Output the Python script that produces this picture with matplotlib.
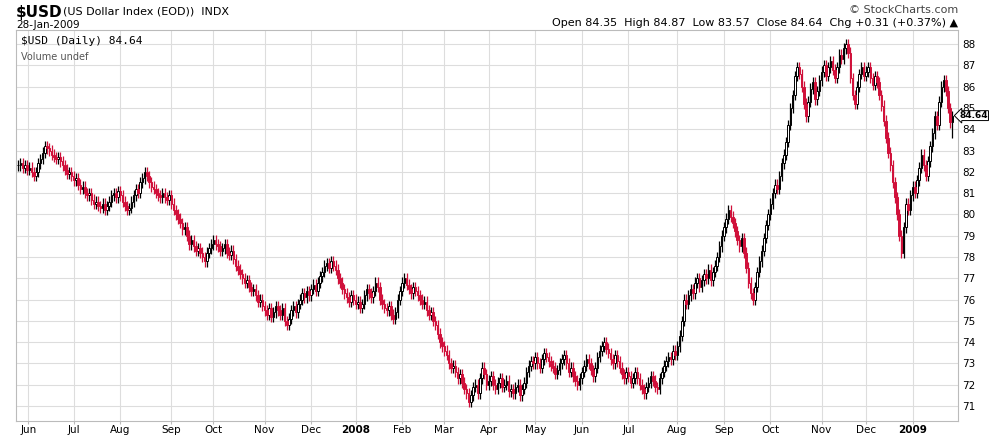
import matplotlib.pyplot as plt
import numpy as np

closes = [
    82.3, 82.4, 82.2, 82.3, 82.1,
    82.2, 82.0, 81.8, 82.0, 82.4, 82.6, 82.9, 83.2, 83.1, 83.0, 82.8, 82.7, 82.6, 82.7, 82.5, 82.3, 82.1, 81.9, 82.0, 81.8,
    81.6, 81.7, 81.4, 81.2, 81.3, 81.0, 80.9, 81.0, 80.7, 80.5, 80.6, 80.4, 80.3, 80.5, 80.2, 80.4, 80.6, 80.9, 81.0, 80.8, 81.1,
    80.9, 80.6, 80.4, 80.2, 80.3, 80.6, 80.9, 81.2, 81.0, 81.5, 81.7, 82.0, 81.8, 81.5, 81.3, 81.2, 81.0, 80.9, 80.8, 81.0, 80.8, 80.7, 80.9,
    80.5, 80.2, 80.0, 79.8, 79.6, 79.3, 79.4, 79.0, 78.6, 78.8, 78.5, 78.3, 78.4, 78.2, 78.0, 77.8, 78.2, 78.4, 78.6,
    78.8, 78.6, 78.5, 78.3, 78.4, 78.6, 78.2, 78.1, 78.3, 77.9, 77.6, 77.4, 77.2, 77.0, 76.8, 76.9, 76.6, 76.4, 76.5, 76.2, 75.9, 76.0, 75.7,
    75.5, 75.3, 75.6, 75.2, 75.4, 75.7, 75.5, 75.3, 75.6, 75.0, 74.8, 75.1, 75.5, 75.7, 75.4, 75.8, 76.0, 76.3, 76.1, 76.4, 76.2,
    76.5, 76.7, 76.4, 76.8, 77.1, 77.3, 77.6, 77.7, 77.5, 77.8, 77.6, 77.4, 77.0, 76.8, 76.5, 76.3, 76.1, 75.9, 76.2, 76.0,
    75.8, 75.9, 75.6, 75.8, 76.2, 76.5, 76.3, 76.1, 76.4, 76.8, 76.6, 76.0, 75.8, 75.6, 75.5, 75.7, 75.3, 75.1, 75.4, 76.0, 76.4,
    76.8, 77.0, 76.7, 76.5, 76.3, 76.6, 76.4, 76.2, 76.0, 75.8, 75.9, 75.5, 75.3, 75.4, 75.0, 74.8, 74.4, 74.0, 73.8,
    73.6, 73.4, 73.0, 72.8, 72.9, 72.6, 72.3, 72.5, 72.1, 71.8, 71.6, 71.2, 71.5, 71.9, 72.0, 71.6, 72.3, 72.8, 72.5, 72.0,
    72.2, 72.4, 72.0, 71.8, 72.1, 72.3, 71.9, 72.0, 72.2, 71.7, 71.8, 71.6, 71.9, 72.0, 71.5, 71.8, 72.1, 72.6, 72.9, 73.1, 73.0,
    73.3, 73.0, 72.8, 73.2, 73.5, 73.3, 73.1, 72.9, 72.8, 72.5, 72.7, 73.0, 73.2, 73.4, 73.0, 72.6, 72.8, 72.4, 72.2, 72.0, 72.3,
    72.6, 72.9, 73.2, 73.0, 72.7, 72.4, 72.8, 73.3, 73.6, 73.8, 74.0, 73.7, 73.5, 73.2, 73.0, 73.4, 73.1, 72.8, 72.5, 72.3, 72.6,
    72.4, 72.1, 72.3, 72.6, 72.3, 72.0, 71.8, 71.6, 71.9, 72.1, 72.4, 72.2, 71.9, 71.8, 72.3, 72.6, 72.9, 73.1, 73.3, 73.2, 73.6, 73.4,
    73.8, 74.3, 75.0, 76.0, 75.8, 76.2, 76.5, 76.3, 76.8, 77.0, 76.6, 76.9, 77.2, 77.0, 77.4, 76.9, 77.3, 77.6, 78.0, 78.5, 79.0,
    79.4, 79.8, 80.2, 79.9, 79.6, 79.2, 78.8, 78.5, 78.9, 78.2, 77.5, 76.8, 76.3, 76.0, 76.6, 77.3, 77.8, 78.3, 78.9, 79.5, 80.0,
    80.5, 81.0, 81.4, 81.2, 81.8, 82.4, 82.8, 83.4, 84.2, 85.0, 85.6, 86.5, 86.9, 86.6, 86.0, 85.2, 84.6, 85.3, 85.9, 86.2, 85.4, 85.8, 86.3,
    86.7, 87.0, 86.5, 86.9, 87.2, 86.8, 86.4, 86.9, 87.5, 87.3, 87.8, 88.0, 87.6, 86.4, 85.6, 85.2, 86.0, 86.6, 86.9, 86.5,
    86.7, 86.9, 86.4, 86.1, 86.5, 86.2, 85.6, 85.1, 84.4, 83.6, 82.9, 82.3, 81.5, 80.8, 80.0, 79.0, 78.2, 79.4, 80.5, 80.2, 80.9,
    81.3, 81.0, 81.6, 82.2, 82.8, 82.3, 81.8, 82.5, 83.2, 83.8, 84.6, 84.2, 85.3, 86.0, 86.3, 85.8, 85.0, 84.33, 84.64,
]
month_labels = ['Jun', 'Jul', 'Aug', 'Sep', 'Oct', 'Nov', 'Dec', '2008', 'Feb', 'Mar', 'Apr',
                'May', 'Jun', 'Jul', 'Aug', 'Sep', 'Oct', 'Nov', 'Dec', '2009']
month_idx = [4.5, 25, 46, 69, 88, 111, 132, 152, 173, 192, 212, 233, 254, 275, 297, 318, 339, 362, 382, 403]

closes = np.array(closes)
n = len(closes)
opens = np.r_[closes[0], closes[:-1]]
opens[-1] = 84.35
highs = np.maximum(opens, closes) + 0.25
lows = np.minimum(opens, closes) - 0.25
highs[-1], lows[-1] = 84.87, 83.57
x = np.arange(n)

fig = plt.figure(figsize=(9.9, 4.38), dpi=100)
ax = fig.add_axes([16/990, 17/438, 942/990, 391/438])

up = closes >= opens
red = '#d0103a'
cols = np.where(up, 'black', red)
ax.vlines(x, lows, highs, colors=cols, linewidth=0.9, zorder=3)
ax.bar(x[up], (closes - opens)[up], bottom=opens[up], width=0.7, facecolor='white',
       edgecolor='black', linewidth=0.7, zorder=4)
ax.bar(x[~up], (opens - closes)[~up], bottom=closes[~up], width=0.7, facecolor=red,
       edgecolor=red, linewidth=0.7, zorder=4)

ax.set_xlim(-1, n + 1.5)
ax.set_ylim(70.3, 88.66)
ax.set_xticks(month_idx)
ax.set_xticklabels(month_labels, fontsize=7.5)
for lab in ax.get_xticklabels():
    if lab.get_text() in ('2008', '2009'):
        lab.set_fontweight('bold')
ax.set_yticks(range(71, 89))
ax.yaxis.tick_right()
ax.tick_params(axis='y', labelsize=7.5, length=0, pad=3)
ax.tick_params(axis='x', length=2, pad=1, color='#bbbbbb')
ax.grid(True, color='#dddddd', linewidth=0.8)
ax.set_axisbelow(True)
for s in ax.spines.values():
    s.set_color('#bbbbbb')

ax.text(0.005, 0.985, '$USD (Daily) 84.64', transform=ax.transAxes, fontsize=8,
        family='DejaVu Sans Mono', va='top')
ax.text(0.005, 0.945, 'Volume undef', transform=ax.transAxes, fontsize=7, color='#555555', va='top')
ax.annotate('84.64', xy=(1, 84.64), xycoords=('axes fraction', 'data'), xytext=(1, 0),
            textcoords='offset points', fontsize=6.5, fontweight='bold', va='center',
            bbox=dict(boxstyle='larrow,pad=0.05', fc='white', ec='black', lw=0.7), zorder=10)

fig.text(16/990, 1 - 12/438, '$USD', fontsize=11, fontweight='bold', va='center')
fig.text(63/990, 1 - 12/438, '(US Dollar Index (EOD))  INDX', fontsize=8, va='center')
fig.text(16/990, 1 - 25/438, '28-Jan-2009', fontsize=7.5, va='center')
fig.text(958/990, 1 - 10/438, '© StockCharts.com', fontsize=8, ha='right', va='center', color='#444444')
fig.text(958/990, 1 - 23/438, 'Open 84.35  High 84.87  Low 83.57  Close 84.64  Chg +0.31 (+0.37%) ▲',
         fontsize=8, ha='right', va='center')

fig.savefig('out.png', dpi=100)
